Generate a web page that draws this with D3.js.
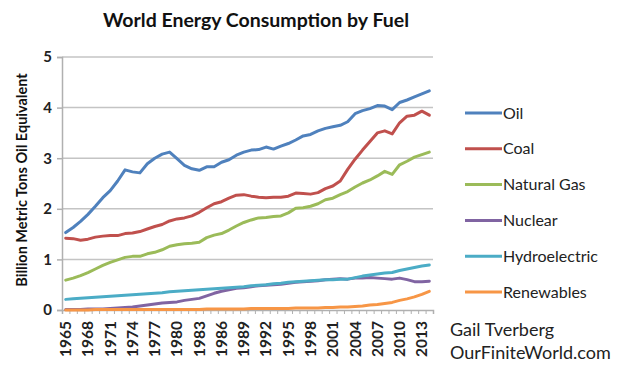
<!DOCTYPE html>
<html>
<head>
<meta charset="utf-8">
<script src="https://cdn.jsdelivr.net/npm/d3@7"></script>
<style>
  body { margin: 0; background: #fff; }
  svg { display: block; font-family: Lato, "Open Sans", sans-serif; }
</style>
</head>
<body>
<div id="chart"></div>
<script>
// world energy consumption by fuel, billion tonnes oil equivalent
var years = d3.range(1965, 2015);

var oil = [1.53, 1.63, 1.75, 1.89, 2.05, 2.22, 2.36, 2.55, 2.77, 2.73,
    2.71, 2.89, 3.00, 3.08, 3.12, 2.99, 2.86, 2.79, 2.76, 2.83,
    2.83, 2.92, 2.97, 3.06, 3.12, 3.16, 3.17, 3.22, 3.18, 3.24,
    3.29, 3.36, 3.44, 3.47, 3.54, 3.59, 3.62, 3.65, 3.72, 3.88,
    3.94, 3.98, 4.04, 4.03, 3.96, 4.10, 4.15, 4.21, 4.27, 4.33];

var coal = [1.42, 1.41, 1.38, 1.40, 1.44, 1.46, 1.47, 1.47, 1.51, 1.52,
    1.55, 1.60, 1.65, 1.69, 1.76, 1.80, 1.82, 1.86, 1.93, 2.02,
    2.10, 2.14, 2.21, 2.27, 2.28, 2.25, 2.23, 2.22, 2.23, 2.23,
    2.25, 2.31, 2.30, 2.29, 2.32, 2.40, 2.45, 2.55, 2.78, 2.98,
    3.16, 3.33, 3.50, 3.54, 3.48, 3.70, 3.83, 3.85, 3.93, 3.85];

var gas = [0.59, 0.63, 0.68, 0.74, 0.81, 0.88, 0.94, 0.99, 1.04, 1.06,
    1.06, 1.11, 1.14, 1.19, 1.26, 1.29, 1.31, 1.32, 1.34, 1.43,
    1.48, 1.51, 1.58, 1.66, 1.73, 1.78, 1.82, 1.83, 1.85, 1.86,
    1.92, 2.01, 2.02, 2.05, 2.10, 2.18, 2.21, 2.28, 2.34, 2.43,
    2.51, 2.57, 2.65, 2.74, 2.68, 2.87, 2.94, 3.02, 3.07, 3.12];

var nuclear = [0.01, 0.01, 0.01, 0.02, 0.02, 0.02, 0.03, 0.04, 0.05, 0.06,
    0.08, 0.10, 0.12, 0.14, 0.15, 0.16, 0.19, 0.21, 0.23, 0.28,
    0.33, 0.37, 0.40, 0.43, 0.44, 0.46, 0.48, 0.49, 0.50, 0.51,
    0.53, 0.55, 0.56, 0.57, 0.58, 0.60, 0.61, 0.62, 0.61, 0.63,
    0.63, 0.64, 0.63, 0.62, 0.61, 0.63, 0.60, 0.56, 0.56, 0.57];

var hydro = [0.21, 0.22, 0.23, 0.24, 0.25, 0.26, 0.27, 0.28, 0.29, 0.30,
    0.31, 0.32, 0.33, 0.34, 0.36, 0.37, 0.38, 0.39, 0.40, 0.41,
    0.42, 0.43, 0.44, 0.45, 0.46, 0.48, 0.49, 0.50, 0.52, 0.53,
    0.55, 0.56, 0.57, 0.58, 0.59, 0.60, 0.60, 0.61, 0.61, 0.64,
    0.67, 0.69, 0.71, 0.73, 0.74, 0.78, 0.81, 0.84, 0.87, 0.89];

var renewables = [0.00, 0.00, 0.00, 0.00, 0.01, 0.01, 0.01, 0.01, 0.01, 0.01,
    0.01, 0.01, 0.01, 0.01, 0.01, 0.01, 0.01, 0.01, 0.01, 0.02,
    0.02, 0.02, 0.02, 0.02, 0.02, 0.03, 0.03, 0.03, 0.03, 0.03,
    0.03, 0.04, 0.04, 0.04, 0.04, 0.05, 0.05, 0.06, 0.06, 0.07,
    0.08, 0.10, 0.11, 0.13, 0.15, 0.19, 0.22, 0.26, 0.31, 0.37];

var seriesNames = ['Oil', 'Coal', 'Natural Gas', 'Nuclear', 'Hydroelectric', 'Renewables'];
var seriesValues = [oil, coal, gas, nuclear, hydro, renewables];
var colors = ['#4f81bd', '#c0504d', '#9bbb59', '#8064a2', '#4bacc6', '#f79646'];
var yTicks = [0, 1, 2, 3, 4, 5];

var svg = d3.select('#chart')
    .append('svg')
    .attr('width', 620)
    .attr('height', 376);

// plot box (note: can't call it "top", that's window.top)
var plotLeft = 62, plotRight = 433, plotTop = 57, plotBottom = 310;

var x = d3.scaleBand()
    .domain(years)
    .range([plotLeft, plotRight]);

// index scale for the little tick marks between categories
var xi = d3.scaleLinear()
    .domain([0, years.length])
    .range([plotLeft, plotRight]);

var y = d3.scaleLinear()
    .domain([0, 5])
    .range([plotBottom, plotTop]);

// title
svg.append('text')
    .attr('x', 256)
    .attr('y', 27)
    .attr('text-anchor', 'middle')
    .attr('font-size', 19.5)
    .attr('font-weight', 'bold')
    .attr('fill', '#111')
    .text('World Energy Consumption by Fuel');

// gridlines
svg.append('g')
    .selectAll('line')
    .data(yTicks.slice(1))
    .enter()
    .append('line')
    .attr('x1', plotLeft)
    .attr('x2', plotRight)
    .attr('y1', function (d) { return y(d); })
    .attr('y2', function (d) { return y(d); })
    .attr('stroke', '#c4c4c4')
    .attr('stroke-width', 1.5);

// y axis
var yAxis = svg.append('g')
    .attr('transform', 'translate(' + plotLeft + ',0)')
    .call(d3.axisLeft(y).tickValues(yTicks).tickSize(5).tickPadding(5).tickFormat(d3.format('d')));
yAxis.select('.domain').attr('stroke', '#b0b0b0').attr('stroke-width', 1.5);
yAxis.selectAll('.tick line').attr('stroke', '#b0b0b0').attr('stroke-width', 1.5);
yAxis.selectAll('.tick text')
    .attr('font-family', 'Lato, sans-serif')
    .attr('font-size', 15)
    .attr('font-weight', 'bold')
    .attr('fill', '#222');

// x axis: ticks between categories
var xTickAxis = svg.append('g')
    .attr('transform', 'translate(0,' + plotBottom + ')')
    .call(d3.axisBottom(xi).tickValues(d3.range(0, years.length + 1)).tickSize(4).tickFormat(''));
xTickAxis.select('.domain').attr('stroke', '#b0b0b0').attr('stroke-width', 1.5);
xTickAxis.selectAll('.tick line').attr('stroke', '#b0b0b0');

// x axis labels every third year
var xLabels = svg.append('g')
    .attr('transform', 'translate(0,' + plotBottom + ')')
    .call(d3.axisBottom(x).tickValues(years.filter(function (d, i) { return i % 3 === 0; })).tickSize(0));
xLabels.select('.domain').remove();
xLabels.selectAll('.tick text')
    .attr('font-family', 'Lato, sans-serif')
    .attr('font-size', 15.5)
    .attr('font-weight', 'bold')
    .attr('fill', '#222')
    .attr('text-anchor', 'end')
    .attr('transform', 'rotate(-90)')
    .attr('x', -11)
    .attr('y', 0)
    .attr('dy', '0.35em');

// y axis title
svg.append('text')
    .attr('transform', 'translate(27,180) rotate(-90)')
    .attr('text-anchor', 'middle')
    .attr('font-size', 14.5)
    .attr('font-weight', 'bold')
    .attr('fill', '#111')
    .text('Billion Metric Tons Oil Equivalent');

// lines
var line = d3.line()
    .x(function (d, i) { return x(years[i]) + x.bandwidth() / 2; })
    .y(function (d) { return y(d); });

svg.append('g')
    .selectAll('path')
    .data(seriesValues)
    .enter()
    .append('path')
    .attr('d', line)
    .attr('fill', 'none')
    .attr('stroke', function (d, i) { return colors[i]; })
    .attr('stroke-width', 3)
    .attr('stroke-linejoin', 'round')
    .attr('stroke-linecap', 'round');

// legend
var legend = svg.append('g')
    .selectAll('g')
    .data(seriesNames)
    .enter()
    .append('g')
    .attr('transform', function (d, i) {
        return 'translate(465,' + (113 + i * 35.8) + ')';
    });

legend.append('line')
    .attr('x1', 0)
    .attr('x2', 37)
    .attr('stroke', function (d, i) { return colors[i]; })
    .attr('stroke-width', 3);

legend.append('text')
    .attr('x', 38)
    .attr('dy', '0.35em')
    .attr('font-size', 16)
    .attr('fill', '#222')
    .text(function (d) { return d; });

// credit
svg.append('text')
    .attr('x', 450)
    .attr('y', 336)
    .attr('font-size', 18)
    .attr('fill', '#222')
    .text('Gail Tverberg');

svg.append('text')
    .attr('x', 450)
    .attr('y', 359)
    .attr('font-size', 18)
    .attr('fill', '#222')
    .text('OurFiniteWorld.com');
</script>
</body>
</html>
